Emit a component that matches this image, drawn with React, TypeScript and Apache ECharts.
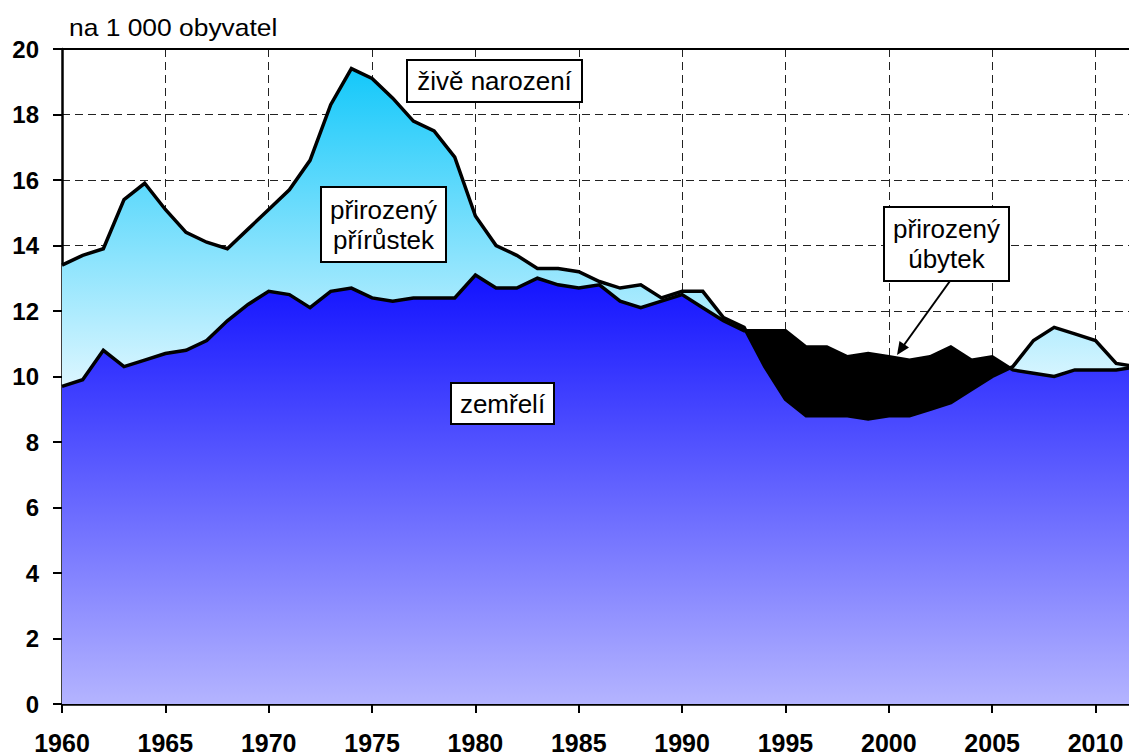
import React, { useEffect, useRef } from "react";
import * as echarts from "echarts";

// Years (x categories)
const years = [
  1960, 1961, 1962, 1963, 1964, 1965, 1966, 1967, 1968, 1969,
  1970, 1971, 1972, 1973, 1974, 1975, 1976, 1977, 1978, 1979,
  1980, 1981, 1982, 1983, 1984, 1985, 1986, 1987, 1988, 1989,
  1990, 1991, 1992, 1993, 1994, 1995, 1996, 1997, 1998, 1999,
  2000, 2001, 2002, 2003, 2004, 2005, 2006, 2007, 2008, 2009,
  2010, 2011, 2012,
];

// živě narození (live births per 1 000 inhabitants)
const births = [
  13.4, 13.7, 13.9, 15.4, 15.9, 15.1, 14.4, 14.1, 13.9, 14.5,
  15.1, 15.7, 16.6, 18.3, 19.4, 19.1, 18.5, 17.8, 17.5, 16.7,
  14.9, 14.0, 13.7, 13.3, 13.3, 13.2, 12.9, 12.7, 12.8, 12.4,
  12.6, 12.6, 11.8, 11.5, 10.3, 9.3, 8.8, 8.8, 8.8, 8.7,
  8.8, 8.8, 9.0, 9.2, 9.6, 10.0, 10.3, 11.1, 11.5, 11.3,
  11.1, 10.4, 10.3,
];

// zemřelí (deaths per 1 000 inhabitants)
const deaths = [
  9.7, 9.9, 10.8, 10.3, 10.5, 10.7, 10.8, 11.1, 11.7, 12.2,
  12.6, 12.5, 12.1, 12.6, 12.7, 12.4, 12.3, 12.4, 12.4, 12.4,
  13.1, 12.7, 12.7, 13.0, 12.8, 12.7, 12.8, 12.3, 12.1, 12.3,
  12.5, 12.1, 11.7, 11.4, 11.4, 11.4, 10.9, 10.9, 10.6, 10.7,
  10.6, 10.5, 10.6, 10.9, 10.5, 10.6, 10.2, 10.1, 10.0, 10.2,
  10.2, 10.2, 10.3,
];

const yTicks = { min: 0, max: 20, interval: 2 };
const xTicks = { min: 1960, max: 2011.62, interval: 5 };

const FONT = "'Liberation Sans', Arial, Helvetica, sans-serif";

// lower envelope of the two lines (with the crossing points of the two polylines)
function lowerEnvelope(): number[][] {
  const out: number[][] = [];
  for (let i = 0; i < years.length; i++) {
    out.push([years[i], Math.min(births[i], deaths[i])]);
    if (i < years.length - 1) {
      const d0 = births[i] - deaths[i];
      const d1 = births[i + 1] - deaths[i + 1];
      if (d0 * d1 < 0) {
        const t = d0 / (d0 - d1);
        out.push([
          years[i] + t * (years[i + 1] - years[i]),
          births[i] + t * (births[i + 1] - births[i]),
        ]);
      }
    }
  }
  return out;
}

function box(x: number, y: number, w: number, h: number, text: string) {
  return [
    {
      type: "rect",
      z: 100,
      shape: { x, y, width: w, height: h },
      style: { fill: "#ffffff", stroke: "#000000", lineWidth: 2 },
    },
    {
      type: "text",
      z: 101,
      x: x + w / 2,
      y: y + h / 2,
      style: {
        text,
        font: `26px ${FONT}`,
        fill: "#000000",
        align: "center",
        verticalAlign: "middle",
        lineHeight: 30,
      },
    },
  ];
}

export default function App() {
  const ref = useRef<HTMLDivElement>(null);

  useEffect(() => {
    if (!ref.current) return;
    const chart = echarts.init(ref.current, null, { renderer: "svg" });

    const birthPairs = years.map((y, i) => [y, births[i]]);
    const deathPairs = years.map((y, i) => [y, deaths[i]]);
    const lower = lowerEnvelope();

    const lightBlue = new echarts.graphic.LinearGradient(0, 0, 0, 1, [
      { offset: 0, color: "#14C8FA" },
      { offset: 0.5, color: "#DCF6FF" },
      { offset: 1, color: "#FFFFFF" },
    ]);
    const blue = new echarts.graphic.LinearGradient(0, 0, 0, 1, [
      { offset: 0, color: "#1212FF" },
      { offset: 1, color: "#B4B4FF" },
    ]);

    const dashed = { color: "#222222", width: 1, type: [8, 5] as number[] };

    const option: any = {
      animation: false,
      backgroundColor: "#ffffff",
      grid: { left: 62, top: 49, right: 0, bottom: 52, containLabel: false },
      xAxis: [
        {
          type: "value",
          min: xTicks.min,
          max: xTicks.max,
          interval: xTicks.interval,
          position: "bottom",
          axisLine: { show: true, onZero: false, lineStyle: { color: "#000", width: 2.5 } },
          axisTick: { show: true, length: 9, inside: false, lineStyle: { color: "#000", width: 2 } },
          axisLabel: {
            show: true,
            margin: 26,
            fontSize: 25,
            fontWeight: "bold",
            color: "#000",
            fontFamily: FONT,
            showMaxLabel: false,
            formatter: (v: number) => String(v),
          },
          splitLine: { show: true, lineStyle: dashed },
        },
        {
          type: "value",
          min: xTicks.min,
          max: xTicks.max,
          position: "top",
          axisLine: { show: true, onZero: false, lineStyle: { color: "#000", width: 2 } },
          axisTick: { show: false },
          axisLabel: { show: false },
          splitLine: { show: false },
        },
      ],
      yAxis: {
        type: "value",
        min: yTicks.min,
        max: yTicks.max,
        interval: yTicks.interval,
        axisLine: { show: true, lineStyle: { color: "#000", width: 2.5 } },
        axisTick: { show: true, length: 9, inside: false, lineStyle: { color: "#000", width: 2 } },
        axisLabel: {
          margin: 23,
          fontSize: 24,
          fontWeight: "bold",
          color: "#000",
          fontFamily: FONT,
        },
        splitLine: { show: true, lineStyle: dashed },
      },
      series: [
        {
          type: "line",
          name: "přirozený úbytek",
          data: deathPairs,
          symbol: "none",
          silent: true,
          z: 2,
          lineStyle: { opacity: 0, width: 0 },
          areaStyle: { color: "#000000", opacity: 1 },
        },
        {
          type: "line",
          name: "živě narození",
          data: birthPairs,
          symbol: "none",
          silent: true,
          z: 2,
          lineStyle: { opacity: 0, width: 0 },
          areaStyle: { color: lightBlue, opacity: 1 },
        },
        {
          type: "line",
          name: "zemřelí",
          data: lower,
          symbol: "none",
          silent: true,
          z: 2,
          lineStyle: { opacity: 0, width: 0 },
          areaStyle: { color: blue, opacity: 1 },
        },
        {
          type: "line",
          name: "živě narození (linie)",
          data: birthPairs,
          symbol: "none",
          silent: true,
          z: 3,
          lineStyle: { color: "#000", width: 3.5, join: "miter" },
        },
        {
          type: "line",
          name: "zemřelí (linie)",
          data: deathPairs,
          symbol: "none",
          silent: true,
          z: 3,
          lineStyle: { color: "#000", width: 3.5, join: "miter" },
        },
      ],
      graphic: [
        {
          type: "text",
          z: 100,
          x: 69,
          y: 27,
          scaleX: 1.1,
          style: {
            text: "na 1 000 obyvatel",
            font: `24px ${FONT}`,
            fill: "#000",
            align: "left",
            verticalAlign: "middle",
          },
        },
        ...box(407, 60, 175, 42, "živě narození"),
        ...box(321, 187, 125, 75, "přirozený\npřírůstek"),
        ...box(451, 383, 103, 41, "zemřelí"),
        ...box(884, 207, 125, 74, "přirozený\núbytek"),
        {
          type: "line",
          z: 100,
          shape: { x1: 950, y1: 281, x2: 904, y2: 345 },
          style: { stroke: "#000", lineWidth: 2 },
        },
        {
          type: "polygon",
          z: 100,
          shape: {
            points: [
              [897, 355],
              [909, 347.5],
              [899.5, 341],
            ],
          },
          style: { fill: "#000" },
        },
      ],
    };

    chart.setOption(option);
    return () => chart.dispose();
  }, []);

  return (
    <div
      ref={ref}
      style={{ position: "fixed", left: 0, top: 0, width: 1129, height: 756, background: "#fff" }}
    />
  );
}
